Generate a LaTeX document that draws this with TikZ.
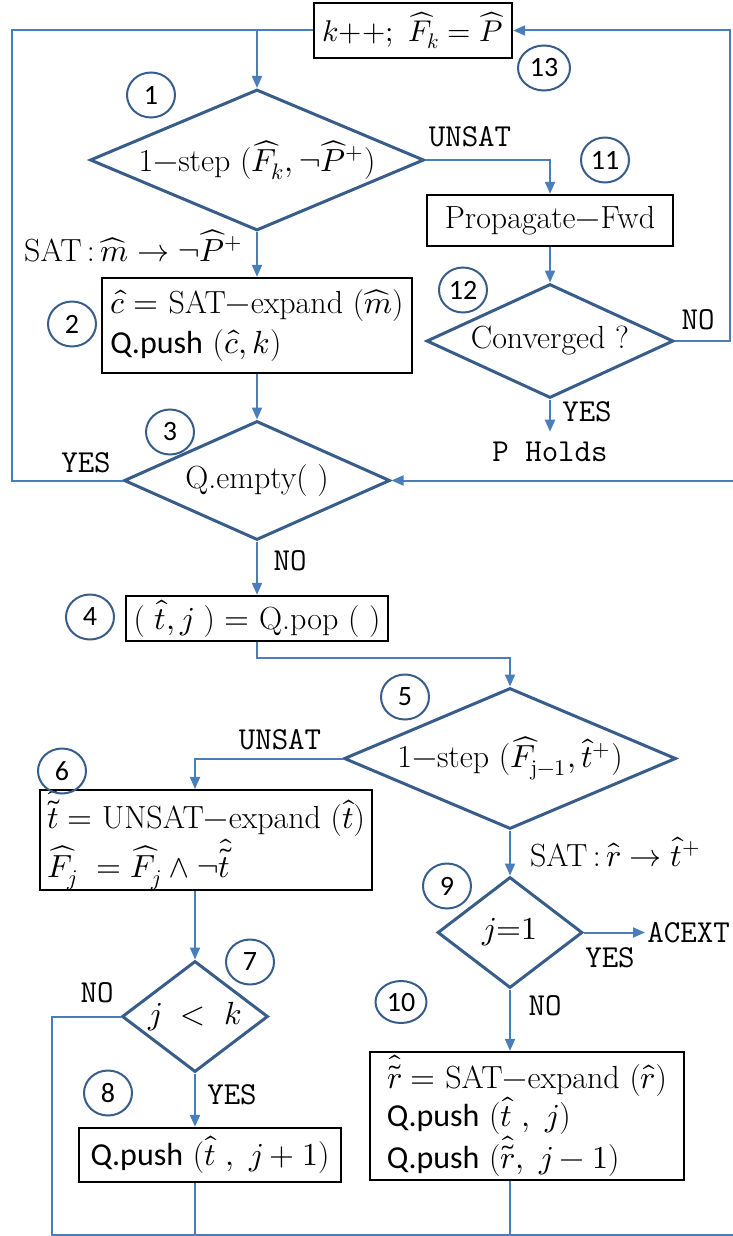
\documentclass[tikz,border=0pt]{standalone}
\usepackage{fontspec}
\usepackage{unicode-math}
\setsansfont{Carlito}
\usepackage{tikz}
\usetikzlibrary{arrows.meta, shapes.geometric}
\definecolor{flujo}{RGB}{74, 126, 187}
\definecolor{bordeazul}{RGB}{56, 93, 138}

\begin{document}
\begin{tikzpicture}[
    x=0.5pt, y=-0.5pt,
    caja/.style={rectangle, draw=black, line width=1.2pt, fill=white, inner sep=0pt,
                 font=\fontsize{16}{20}\selectfont},
    rombo/.style={diamond, draw=bordeazul, line width=1.5pt, fill=white, inner sep=0pt,
                  font=\fontsize{16}{20}\selectfont},
    paso/.style={ellipse, draw=bordeazul, line width=1pt, inner sep=0pt,
                 minimum width=24pt, minimum height=22.5pt, font=\sffamily\fontsize{14}{16}\selectfont},
    etiq/.style={font=\ttfamily\fontsize{16}{18}\selectfont, inner sep=1pt},
    flecha/.style={-{Triangle[length=6pt, width=5pt]}, line width=1pt, flujo},
    linea/.style={line width=1pt, flujo}
]
\useasboundingbox (0,0) rectangle (733,1236);
% bloques
\node (inc) [caja, minimum width=99pt, minimum height=27.5pt, font=\fontsize{15}{18}\selectfont]
    at (413,30.5) {$k{+}{+};\ \widehat{F}_k=\widehat{P}$};
\node (paso1) [rombo, minimum width=167pt, minimum height=70.5pt, aspect=2.37]
    at (257,160) {1$-$step ($\widehat{F}_k, \neg\widehat{P}^{+}$)};
\node (prop) [caja, minimum width=123pt, minimum height=25.5pt] at (550,220.5) {Propagate$-$Fwd};
\node (conv) [rombo, minimum width=123.5pt, minimum height=57pt, aspect=2.17]
    at (550,341) {Converged ?};
\node (holds) [etiq, inner sep=5pt] at (550,452) {P Holds};
\node (satm) [anchor=east, font=\fontsize{16}{20}\selectfont]
    at (250,246) {SAT\,:\,$\widehat{m}\rightarrow\neg\widehat{P}^{+}$};
\node (exp2) [caja, minimum width=155pt, minimum height=47.5pt, align=left]
    at (257,325.5) {$\hat{c}=$ SAT$-$expand ($\widehat{m}$)\\ {\sffamily Q.push} ($\hat{c}, k$)};
\node (vacia) [rombo, minimum width=133pt, minimum height=59.5pt, aspect=2.24]
    at (257,480.5) {Q.empty( )};
\node (saca) [caja, minimum width=131pt, minimum height=22.5pt]
    at (257,618.5) {( $\hat{t}, j$ ) $=$ Q.pop ( )};
\node (paso5) [rombo, minimum width=166pt, minimum height=70.5pt, aspect=2.35]
    at (510,758.5) {1$-$step ($\widehat{F}_{\mathrm{j}-1}, \hat{t}^{+}$)};
\node (unsat) [caja, minimum width=166pt, minimum height=38pt, align=left,
    font=\fontsize{16}{16.5}\selectfont]
    at (206,840) {$\hat{\tilde{t}} =$ UNSAT$-$expand ($\hat{t}$)\\ $\widehat{F}_j\ = \widehat{F}_j \wedge \neg\hat{\tilde{t}}$};
\node (menor) [rombo, minimum width=73pt, minimum height=55.5pt, aspect=1.32]
    at (195,1016.5) {$j\ <\ k$};
\node (mete8) [caja, minimum width=131pt, minimum height=27pt]
    at (210,1155) {{\sffamily Q.push} ($\hat{t}\ ,\ j+1$)};
\node (satr) [anchor=west, font=\fontsize{16}{20}\selectfont]
    at (523,852) {SAT\,:\,$\hat{r}\rightarrow\hat{t}^{+}$};
\node (uno) [rombo, minimum width=72.5pt, minimum height=55.5pt, aspect=1.31]
    at (510,932.5) {$j{=}1$};
\node (acext) [etiq, anchor=west] at (645,933) {ACEXT};
\node (sat10) [caja, minimum width=157pt, minimum height=64pt, align=left,
    font=\fontsize{16}{19}\selectfont]
    at (527,1116) {$\hat{\tilde{r}} =$ SAT$-$expand ($\hat{r}$)\\ {\sffamily Q.push} ($\hat{t}\ ,\ j$)\\ {\sffamily Q.push} ($\hat{\tilde{r}},\ j-1$)};
% etiquetas de salida
\node (lunsat1) [etiq] at (470,137) {UNSAT};
\node (lno12) [etiq] at (698,320) {NO};
\node (lyes12) [etiq] at (587,412) {YES};
\node (lyes3) [etiq] at (86,463) {YES};
\node (lno3) [etiq] at (290,561) {NO};
\node (lunsat5) [etiq] at (280,740) {UNSAT};
\node (lyes9) [etiq] at (610,958) {YES};
\node (lno9) [etiq] at (545,1006) {NO};
\node (lno7) [etiq] at (97,993) {NO};
\node (lyes7) [etiq] at (232,1095) {YES};
% numeros de paso
\node (n1) [paso] at (151,95) {1};
\node (n2) [paso] at (72,324) {2};
\node (n3) [paso] at (170,432) {3};
\node (n4) [paso] at (90,617) {4};
\node (n5) [paso] at (405,697) {5};
\node (n6) [paso] at (62,771) {6};
\node (n7) [paso] at (250,962) {7};
\node (n8) [paso] at (108,1093) {8};
\node (n9) [paso] at (447,886) {9};
\node (n10) [paso, minimum width=25.5pt, minimum height=21pt] at (401,1002) {10};
\node (n11) [paso] at (605,160) {11};
\node (n12) [paso] at (463,290) {12};
\node (n13) [paso, minimum width=26pt] at (544,68) {13};
% conectores
\coordinate (izq) at (12,30.5);
\coordinate (der) at (730,341);
\coordinate (abajoizq) at (52,1235);
\coordinate (abajoder) at (736,1235);
\draw [flecha] (inc.west) -| (paso1.north);
\draw [linea] (vacia.west) -| (izq) -- (inc.west);
\draw [flecha] (paso1.east) -| (prop.north);
\draw [flecha] (prop.south) -- (conv.north);
\draw [flecha] (conv.east) -- (der) |- (inc.east);
\draw [flecha] (conv.south) -- (holds.north);
\draw [flecha] (paso1.south) -- (exp2.north);
\draw [flecha] (exp2.south) -- (vacia.north);
\draw [flecha] (vacia.south) -- (saca.north);
\draw [flecha] (saca.south) -- ++(0,16) -| (paso5.north);
\draw [flecha] (paso5.west) -| (menor.north |- unsat.north);
\draw [flecha] (menor.north |- unsat.south) -- (menor.north);
\draw [flecha] (menor.south) -- (menor.south |- mete8.north);
\draw [flecha] (paso5.south) -- (uno.north);
\draw [flecha] (uno.east) -- (uno.east -| acext.west);
\draw [flecha] (uno.south) -- (uno.south |- sat10.north);
\draw [flecha] (menor.west) -| (abajoizq) -- (abajoder) |- (vacia.east);
\draw [linea] (menor.south |- mete8.south) -- (menor.south |- abajoizq);
\draw [linea] (uno.south |- sat10.south) -- (uno.south |- abajoizq);
\end{tikzpicture}
\end{document}
